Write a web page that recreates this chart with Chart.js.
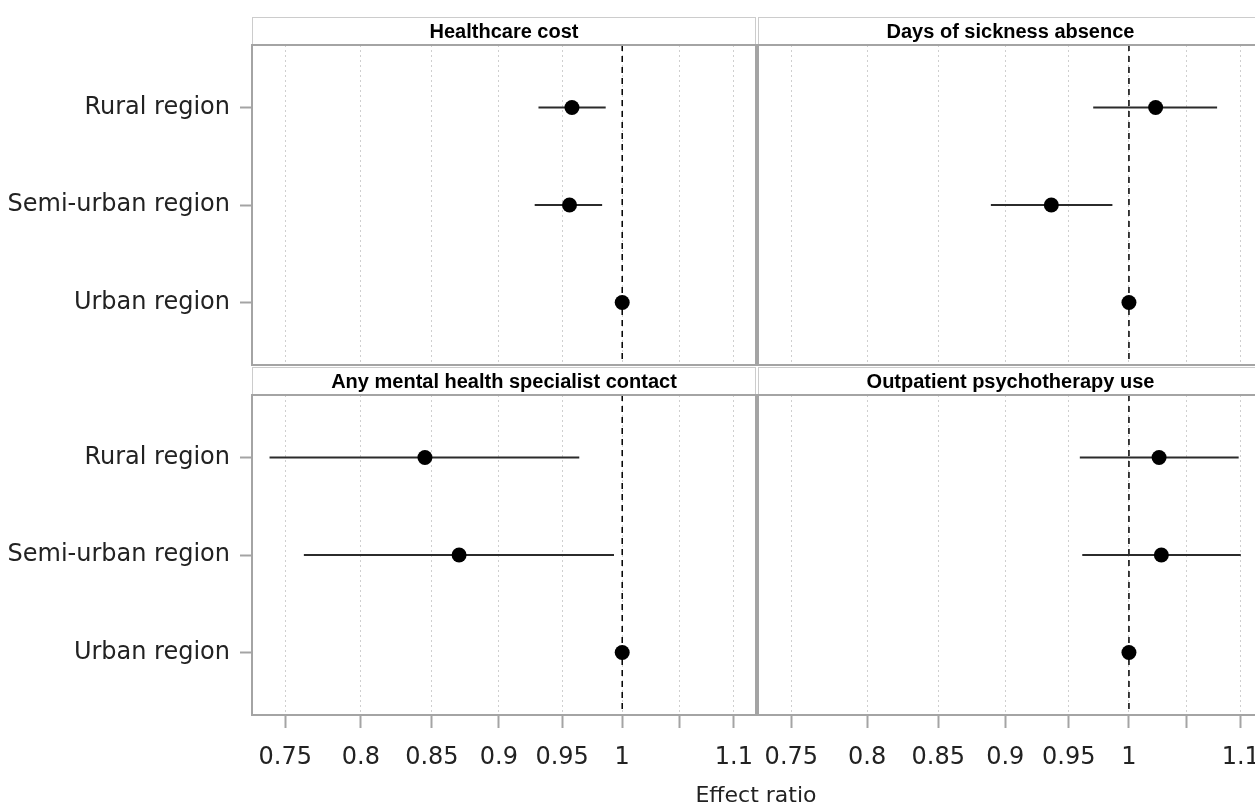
<!DOCTYPE html>
<html>
<head>
<meta charset="utf-8">
<script src="https://cdn.jsdelivr.net/npm/chart.js@4.4.1/dist/chart.umd.min.js"></script>
<style>
  html, body { margin: 0; padding: 0; background: #fff; overflow: hidden; }
  body { width: 1255px; height: 806px; position: relative; }
  canvas { position: absolute; }
  #xTitle {
    position: absolute; left: 556px; width: 400px; top: 782px;
    text-align: center; font: 22px "DejaVu Sans", sans-serif; color: #222;
  }
</style>
</head>
<body>
<canvas id="pTL" width="758" height="366" style="left:0;top:0"></canvas>
<canvas id="pTR" width="506" height="366" style="left:757px;top:0"></canvas>
<canvas id="pBL" width="758" height="420" style="left:0;top:366px"></canvas>
<canvas id="pBR" width="506" height="420" style="left:757px;top:366px"></canvas>
<div id="xTitle">Effect ratio</div>

<script>
// ----------------------
// DATOS
// ----------------------
const regiones = ['Rural region', 'Semi-urban region', 'Urban region'];
const titulos = [
  'Healthcare cost', 'Days of sickness absence',
  'Any mental health specialist contact', 'Outpatient psychotherapy use'
];

const tickValores = [0.75, 0.8, 0.85, 0.9, 0.95, 1, 1.05, 1.1];
const tickEtiquetas = ['0.75', '0.8', '0.85', '0.9', '0.95', '1', '', '1.1'];

// estimacion, limite inferior, limite superior (urban = referencia)
const costeEst = [0.958, 0.956, 1];
const costeInf = [0.931, 0.928, null];
const costeSup = [0.986, 0.983, null];

const bajaEst = [1.023, 0.936, 1];
const bajaInf = [0.970, 0.889, null];
const bajaSup = [1.078, 0.986, null];

const mentalEst = [0.845, 0.870, 1];
const mentalInf = [0.740, 0.762, null];
const mentalSup = [0.964, 0.993, null];

const psicoEst = [1.026, 1.028, 1];
const psicoInf = [0.959, 0.961, null];
const psicoSup = [1.098, 1.100, null];

const X_MIN = 0.729, X_MAX = 1.121;
const Y_MIN = 0.36, Y_MAX = 3.64;

Chart.defaults.font.family = '"DejaVu Sans", sans-serif';
Chart.defaults.color = '#222';
Chart.defaults.animation = false;

// marco del panel + cabecera con el titulo
const marcoPanel = {
  id: 'marcoPanel',
  afterDraw(chart, args, opts) {
    const { ctx, chartArea: a } = chart;
    ctx.save();
    // cabecera
    ctx.fillStyle = '#fff';
    ctx.fillRect(a.left, a.top - 28, a.right - a.left, 28);
    ctx.strokeStyle = '#cccccc';
    ctx.lineWidth = 1;
    ctx.strokeRect(a.left + 0.5, a.top - 27.5, a.right - a.left - 1, 27);
    ctx.fillStyle = '#000';
    ctx.font = 'bold 20px "Liberation Sans", Arial, sans-serif';
    ctx.textAlign = 'center';
    ctx.textBaseline = 'middle';
    ctx.fillText(opts.titulo, (a.left + a.right) / 2, a.top - 13);
    // marco
    ctx.strokeStyle = '#a4a4a4';
    ctx.lineWidth = 2;
    ctx.strokeRect(a.left, a.top, a.right - a.left, a.bottom - a.top);
    ctx.restore();
  }
};

// sin relleno automatico de las escalas: el area queda donde dice el padding
function sinRelleno(s) {
  s.paddingLeft = s.paddingRight = s.paddingTop = s.paddingBottom = 0;
}

function crearPanel(id, titulo, est, inf, sup, conEtiquetasY, conEtiquetasX, padding) {
  const datasets = [];

  // linea de referencia en 1
  datasets.push({
    type: 'line',
    data: [{ x: 1, y: Y_MIN }, { x: 1, y: Y_MAX }],
    borderColor: '#000',
    borderWidth: 1.5,
    borderDash: [6, 5],
    pointRadius: 0,
    order: 2
  });

  // intervalos de confianza
  est.forEach((e, i) => {
    if (inf[i] == null) return;
    datasets.push({
      type: 'line',
      data: [{ x: inf[i], y: i + 1 }, { x: sup[i], y: i + 1 }],
      borderColor: '#2b2b2b',
      borderWidth: 2,
      pointRadius: 0,
      order: 1
    });
  });

  // estimaciones puntuales
  datasets.push({
    type: 'scatter',
    data: est.map((e, i) => ({ x: e, y: i + 1 })),
    backgroundColor: '#000',
    borderWidth: 0,
    pointRadius: 7.5,
    pointHoverRadius: 7.5,
    order: 0
  });

  return new Chart(document.getElementById(id), {
    type: 'scatter',
    data: { datasets },
    options: {
      responsive: false,
      events: [],
      layout: { padding, autoPadding: false },
      plugins: {
        legend: { display: false },
        tooltip: { enabled: false },
        marcoPanel: { titulo }
      },
      scales: {
        x: {
          type: 'logarithmic',
          min: X_MIN,
          max: X_MAX,
          afterBuildTicks: s => { s.ticks = tickValores.map(v => ({ value: v })); },
          afterFit: s => { s.height = conEtiquetasX ? 71 : 0; sinRelleno(s); },
          ticks: {
            display: conEtiquetasX,
            autoSkip: false,
            maxRotation: 0,
            padding: 15,
            font: { size: 24 },
            color: '#222',
            callback: (v, i) => tickEtiquetas[i]
          },
          grid: {
            color: '#cfcfcf',
            lineWidth: 1,
            drawTicks: conEtiquetasX,
            tickLength: 13,
            tickColor: '#a4a4a4',
            tickWidth: 2,
            tickBorderDash: []
          },
          border: { display: false, dash: [2, 3] }
        },
        y: {
          type: 'linear',
          display: conEtiquetasY,
          reverse: true,
          min: Y_MIN,
          max: Y_MAX,
          afterBuildTicks: s => { s.ticks = regiones.map((r, i) => ({ value: i + 1 })); },
          afterFit: s => { s.width = conEtiquetasY ? 252 : 0; sinRelleno(s); },
          ticks: {
            padding: 10,
            font: { size: 24 },
            color: '#222',
            callback: v => regiones[v - 1]
          },
          grid: {
            drawOnChartArea: false,
            tickLength: 12,
            tickColor: '#a4a4a4',
            tickWidth: 2
          },
          border: { display: false }
        }
      }
    },
    plugins: [marcoPanel]
  });
}

// ----------------------
// INICIALIZACION
// ----------------------
crearPanel('pTL', titulos[0], costeEst, costeInf, costeSup, true, false,
  { top: 45, left: 0, right: 2, bottom: 1 });
crearPanel('pTR', titulos[1], bajaEst, bajaInf, bajaSup, false, false,
  { top: 45, left: 1, right: 0, bottom: 1 });
crearPanel('pBL', titulos[2], mentalEst, mentalInf, mentalSup, true, true,
  { top: 29, left: 0, right: 2, bottom: 0 });
crearPanel('pBR', titulos[3], psicoEst, psicoInf, psicoSup, false, true,
  { top: 29, left: 1, right: 0, bottom: 0 });
</script>
</body>
</html>
